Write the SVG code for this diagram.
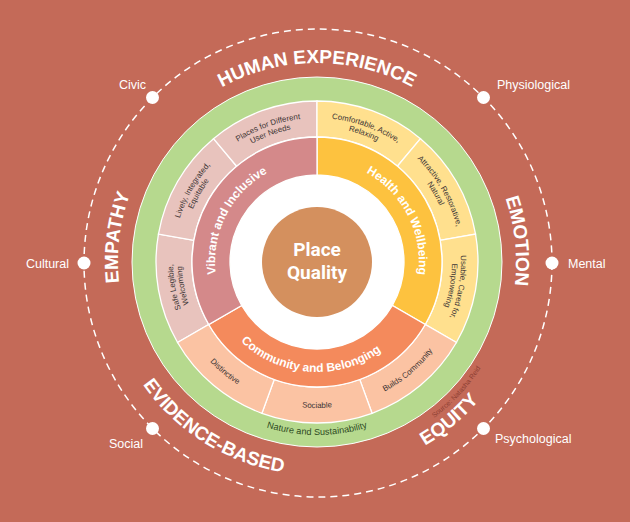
<svg xmlns="http://www.w3.org/2000/svg" xmlns:xlink="http://www.w3.org/1999/xlink" width="630" height="522" viewBox="0 0 630 522">
<style>
.big{font-family:"Liberation Sans",Arial,sans-serif;font-weight:bold;font-size:19px;fill:#fff;}
.mid{font-family:"Liberation Sans",Arial,sans-serif;font-weight:bold;font-size:12px;fill:#fff;}
.sm{font-family:"Liberation Sans",Arial,sans-serif;font-size:7.9px;fill:#3d3535;}
.lbl{font-family:"Liberation Sans",Arial,sans-serif;font-size:12.5px;fill:#fff;}
.seg{stroke:#fff;stroke-width:1.3;}
.pq{font-family:Roboto,"Liberation Sans",sans-serif;font-weight:bold;font-size:19px;fill:#fff;}
</style>
<defs>
<path id="cwBig" d="M130,193.94 A199,199 0 0 1 504,193.94"/>
<path id="ccwBig" d="M116.84,334.85 A213,213 0 0 0 517.16,334.85"/>
<path id="ccwSrc" d="M133.76,328.69 A195,195 0 0 0 500.24,328.69"/>
<path id="cwMid" d="M221.15,227.12 A102,102 0 0 1 412.85,227.12"/>
<path id="ccwMid" d="M213.63,299.62 A110,110 0 0 0 420.37,299.62"/>
<path id="cw144" d="M192.3,190 A144,144 0 0 1 441.7,190"/>
<path id="cw135" d="M200.09,194.5 A135,135 0 0 1 433.91,194.5"/>
<path id="ccw146" d="M190.56,335 A146,146 0 0 0 443.44,335"/>
<path id="ccwNat" d="M154.43,321.17 A173,173 0 0 0 479.57,321.17"/>
</defs>
<rect width="630" height="522" fill="#C46A58"/>

<g id="connectors">
<circle cx="318" cy="263" r="234" fill="none" stroke="#fff" stroke-width="1.5" stroke-dasharray="7 5"/>
</g>

<g id="node-civic"><circle cx="152.5" cy="97.5" r="6.5" fill="#fff"/><text class="lbl" x="146" y="89" text-anchor="end">Civic</text></g>
<g id="node-physiological"><circle cx="483.5" cy="97.5" r="6.5" fill="#fff"/><text class="lbl" x="497" y="89">Physiological</text></g>
<g id="node-cultural"><circle cx="84" cy="263" r="6.5" fill="#fff"/><text class="lbl" x="69" y="268" text-anchor="end">Cultural</text></g>
<g id="node-mental"><circle cx="552" cy="263" r="6.5" fill="#fff"/><text class="lbl" x="568" y="268">Mental</text></g>
<g id="node-social"><circle cx="152.5" cy="428.5" r="6.5" fill="#fff"/><text class="lbl" x="143" y="448" text-anchor="end">Social</text></g>
<g id="node-psychological"><circle cx="483.5" cy="428.5" r="6.5" fill="#fff"/><text class="lbl" x="495" y="443">Psychological</text></g>

<g id="outer-words">
<text class="big" text-anchor="middle"><textPath xlink:href="#cwBig" href="#cwBig" startOffset="50%">HUMAN EXPERIENCE</textPath></text>
<g transform="rotate(84 317 262)"><text class="big" text-anchor="middle"><textPath xlink:href="#cwBig" href="#cwBig" startOffset="50%">EMOTION</textPath></text></g>
<g transform="rotate(-83 317 262)"><text class="big" text-anchor="middle"><textPath xlink:href="#cwBig" href="#cwBig" startOffset="50%">EMPATHY</textPath></text></g>
<g transform="rotate(32 317 262)"><text class="big" text-anchor="middle"><textPath xlink:href="#ccwBig" href="#ccwBig" startOffset="50%">EVIDENCE-BASED</textPath></text></g>
<g transform="rotate(-40 317 262)"><text class="big" text-anchor="middle"><textPath xlink:href="#ccwBig" href="#ccwBig" startOffset="50%">EQUITY</textPath></text></g>
<g transform="rotate(-47 317 262)"><text style="font-family:'Liberation Sans',Arial,sans-serif;font-size:7px;fill:#8E3F33" text-anchor="middle"><textPath xlink:href="#ccwSrc" href="#ccwSrc" startOffset="50%">Source: Natasha Reid</textPath></text></g>
</g>

<g id="node-nature">
<circle cx="317" cy="262" r="185" fill="#B6D98E" stroke="#fff" stroke-width="1"/>
<text style="font-family:'Liberation Sans',Arial,sans-serif;font-size:9.2px;fill:#2E4A1F" text-anchor="middle"><textPath xlink:href="#ccwNat" href="#ccwNat" startOffset="50%">Nature and Sustainability</textPath></text>
</g>

<g id="node-safe">
<path class="seg" fill="#E8C3BD" d="M177.57,342.5 A161,161 0 0 1 158.45,234.05 L193.9,240.3 A125,125 0 0 0 208.75,324.5 Z"/>
<g transform="rotate(-100 317 262)"><text class="sm" text-anchor="middle"><textPath xlink:href="#cw144" href="#cw144" startOffset="50%">Safe Legible,</textPath></text><text class="sm" text-anchor="middle"><textPath xlink:href="#cw135" href="#cw135" startOffset="50%">Welcoming</textPath></text></g>
</g>
<g id="node-lively">
<path class="seg" fill="#E8C3BD" d="M158.45,234.05 A161,161 0 0 1 213.51,138.67 L236.65,166.25 A125,125 0 0 0 193.9,240.3 Z"/>
<g transform="rotate(-60 317 262)"><text class="sm" text-anchor="middle"><textPath xlink:href="#cw144" href="#cw144" startOffset="50%">Lively, Integrated,</textPath></text><text class="sm" text-anchor="middle"><textPath xlink:href="#cw135" href="#cw135" startOffset="50%">Equitable</textPath></text></g>
</g>
<g id="node-places">
<path class="seg" fill="#E8C3BD" d="M213.51,138.67 A161,161 0 0 1 317,101 L317,137 A125,125 0 0 0 236.65,166.25 Z"/>
<g transform="rotate(-20 317 262)"><text class="sm" text-anchor="middle"><textPath xlink:href="#cw144" href="#cw144" startOffset="50%">Places for Different</textPath></text><text class="sm" text-anchor="middle"><textPath xlink:href="#cw135" href="#cw135" startOffset="50%">User Needs</textPath></text></g>
</g>
<g id="node-comfortable">
<path class="seg" fill="#FFE08E" d="M317,101 A161,161 0 0 1 420.49,138.67 L397.35,166.25 A125,125 0 0 0 317,137 Z"/>
<g transform="rotate(20 317 262)"><text class="sm" text-anchor="middle"><textPath xlink:href="#cw144" href="#cw144" startOffset="50%">Comfortable, Active,</textPath></text><text class="sm" text-anchor="middle"><textPath xlink:href="#cw135" href="#cw135" startOffset="50%">Relaxing</textPath></text></g>
</g>
<g id="node-attractive">
<path class="seg" fill="#FFE08E" d="M420.49,138.67 A161,161 0 0 1 475.55,234.05 L440.1,240.3 A125,125 0 0 0 397.35,166.25 Z"/>
<g transform="rotate(60 317 262)"><text class="sm" text-anchor="middle"><textPath xlink:href="#cw144" href="#cw144" startOffset="50%">Attractive, Restorative,</textPath></text><text class="sm" text-anchor="middle"><textPath xlink:href="#cw135" href="#cw135" startOffset="50%">Natural</textPath></text></g>
</g>
<g id="node-usable">
<path class="seg" fill="#FFE08E" d="M475.55,234.05 A161,161 0 0 1 456.43,342.5 L425.25,324.5 A125,125 0 0 0 440.1,240.3 Z"/>
<g transform="rotate(100 317 262)"><text class="sm" text-anchor="middle"><textPath xlink:href="#cw144" href="#cw144" startOffset="50%">Usable, Cared for,</textPath></text><text class="sm" text-anchor="middle"><textPath xlink:href="#cw135" href="#cw135" startOffset="50%">Empowering</textPath></text></g>
</g>
<g id="node-builds">
<path class="seg" fill="#FBC3A3" d="M456.43,342.5 A161,161 0 0 1 372.06,413.29 L359.75,379.46 A125,125 0 0 0 425.25,324.5 Z"/>
<g transform="rotate(-40 317 262)"><text class="sm" text-anchor="middle"><textPath xlink:href="#ccw146" href="#ccw146" startOffset="50%">Builds Community</textPath></text></g>
</g>
<g id="node-sociable">
<path class="seg" fill="#FBC3A3" d="M372.06,413.29 A161,161 0 0 1 261.94,413.29 L274.25,379.46 A125,125 0 0 0 359.75,379.46 Z"/>
<text class="sm" text-anchor="middle"><textPath xlink:href="#ccw146" href="#ccw146" startOffset="50%">Sociable</textPath></text>
</g>
<g id="node-distinctive">
<path class="seg" fill="#FBC3A3" d="M261.94,413.29 A161,161 0 0 1 177.57,342.5 L208.75,324.5 A125,125 0 0 0 274.25,379.46 Z"/>
<g transform="rotate(40 317 262)"><text class="sm" text-anchor="middle"><textPath xlink:href="#ccw146" href="#ccw146" startOffset="50%">Distinctive</textPath></text></g>
</g>

<g id="node-health">
<path class="seg" fill="#FDC23F" d="M317,137 A125,125 0 0 1 425.25,324.5 L392.34,305.5 A87,87 0 0 0 317,175 Z"/>
<g transform="rotate(63 317 262)"><text class="mid" text-anchor="middle"><textPath xlink:href="#cwMid" href="#cwMid" startOffset="50%">Health and Wellbeing</textPath></text></g>
</g>
<g id="node-community">
<path class="seg" fill="#F48A5C" d="M425.25,324.5 A125,125 0 0 1 208.75,324.5 L241.66,305.5 A87,87 0 0 0 392.34,305.5 Z"/>
<g transform="rotate(4 317 262)"><text class="mid" text-anchor="middle"><textPath xlink:href="#ccwMid" href="#ccwMid" startOffset="50%">Community and Belonging</textPath></text></g>
</g>
<g id="node-vibrant">
<path class="seg" fill="#D4898A" d="M208.75,324.5 A125,125 0 0 1 317,137 L317,175 A87,87 0 0 0 241.66,305.5 Z"/>
<g transform="rotate(-63 317 262)"><text class="mid" text-anchor="middle"><textPath xlink:href="#cwMid" href="#cwMid" startOffset="50%">Vibrant and Inclusive</textPath></text></g>
</g>

<g id="node-place-quality">
<circle cx="317" cy="262" r="87" fill="#fff"/>
<circle cx="317" cy="262" r="55" fill="#D4905E"/>
<text class="pq" x="317" y="256" text-anchor="middle">Place</text>
<text class="pq" x="317" y="279" text-anchor="middle">Quality</text>
</g>
</svg>
